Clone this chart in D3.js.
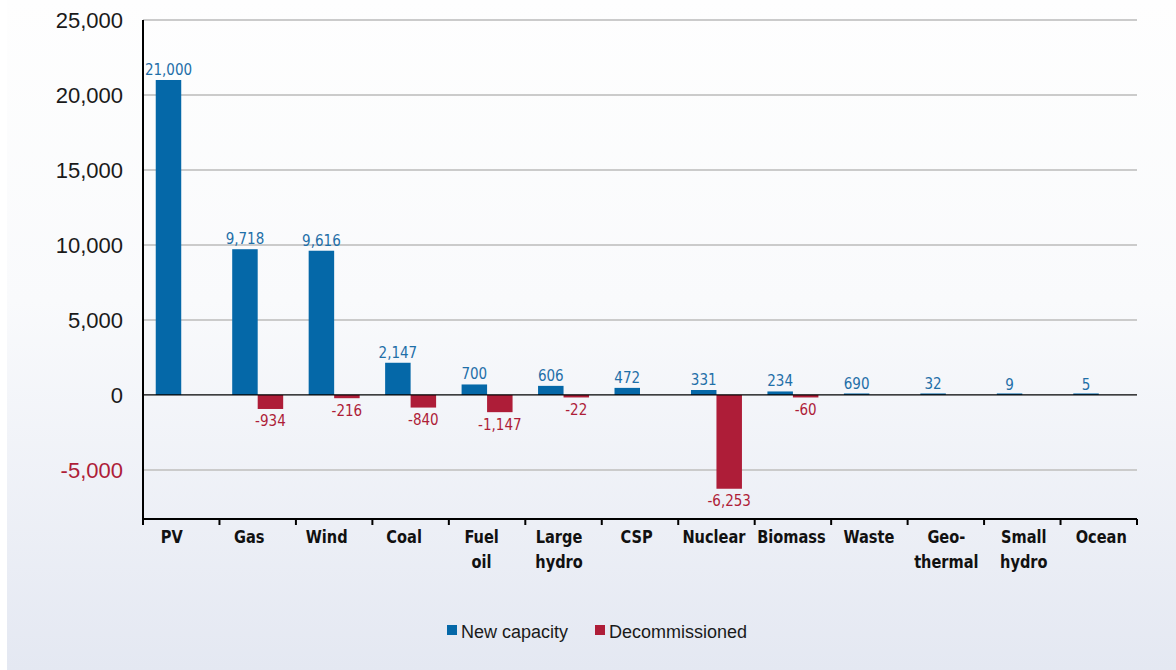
<!DOCTYPE html>
<html>
<head>
<meta charset="utf-8">
<script src="https://cdn.jsdelivr.net/npm/d3@7"></script>
<style>
  body { margin: 0; background: #fff; }
  svg { display: block; }
</style>
</head>
<body>
<svg width="1176" height="670"></svg>
<script>
// ~~~~~~ DATA ~~~~~~
var categories = [["PV"], ["Gas"], ["Wind"], ["Coal"], ["Fuel", "oil"], ["Large", "hydro"], ["CSP"],
                  ["Nuclear"], ["Biomass"], ["Waste"], ["Geo-", "thermal"], ["Small", "hydro"], ["Ocean"]];
var newCapacity = [21000, 9718, 9616, 2147, 700, 606, 472, 331, 234, 69, 32, 9, 5];
var newLabels = ["21,000", "9,718", "9,616", "2,147", "700", "606", "472", "331", "234", "690", "32", "9", "5"];
var decommissioned = [0, -934, -216, -840, -1147, -22, 0, -6253, -60, 0, 0, 0, 0];
var yTicks = [-5000, 0, 5000, 10000, 15000, 20000, 25000];
var seriesNames = ["New capacity", "Decommissioned"];

var BLUE = "#0568a8", RED = "#ae1d38";
var condensed = "'DejaVu Sans Condensed', 'Arial Narrow', sans-serif";
var fmt = function(v) { return d3.format(",")(v).replace("\u2212", "-"); };

var svg = d3.select("svg"),
    margin = {top: 20, left: 143, right: 39, bottom: 151},
    width = 1176 - margin.left - margin.right,
    height = 670 - margin.top - margin.bottom;

// background panel with soft gradient
var defs = svg.append("defs");
var grad = defs.append("linearGradient").attr("id", "bg").attr("x1", 0).attr("x2", 0).attr("y1", 0).attr("y2", 1);
grad.append("stop").attr("offset", "0%").attr("stop-color", "#fefefe");
grad.append("stop").attr("offset", "45%").attr("stop-color", "#f9fafc");
grad.append("stop").attr("offset", "100%").attr("stop-color", "#e4e8f2");
svg.append("rect").attr("x", 7).attr("y", 0).attr("width", 1169).attr("height", 670).attr("fill", "url(#bg)");

var g = svg.append("g").attr("transform", "translate(" + margin.left + "," + margin.top + ")");

// ~~~~~~ SCALES ~~~~~~
var x = d3.scaleBand().domain(d3.range(categories.length)).range([0, width]);
// category labels sit on a slightly wider spread than the bands
var xLab = d3.scaleBand().domain(d3.range(categories.length)).range([-10, width + 3]);
var y = d3.scaleLinear().domain([-8270, 25000]).range([height, 0]);
var barW = x.bandwidth() / 3;
var barOff = (x.bandwidth() - 2 * barW) / 2;

// gridlines
g.selectAll(".grid")
  .data(yTicks.filter(function(d) { return d !== 0; }))
  .enter().append("line")
  .attr("x1", 0).attr("x2", width)
  .attr("y1", function(d) { return y(d); }).attr("y2", function(d) { return y(d); })
  .attr("stroke", "#cbcbcb").attr("stroke-width", 2);

// y tick labels
g.selectAll(".ylab")
  .data(yTicks)
  .enter().append("text")
  .attr("x", -20)
  .attr("y", function(d) { return y(d); })
  .attr("dy", "0.36em")
  .attr("text-anchor", "end")
  .style("font", "22px 'Liberation Sans', Arial, sans-serif")
  .attr("fill", function(d) { return d < 0 ? RED : "#1a1a1a"; })
  .text(fmt);

// bars: new capacity
g.selectAll(".bar-new")
  .data(newCapacity)
  .enter().append("rect")
  .attr("x", function(d, i) { return x(i) + barOff; })
  .attr("y", function(d) { return Math.min(y(d), y(0) - 1.5); })
  .attr("width", barW)
  .attr("height", function(d) { return Math.max(y(0) - y(d), 1.5); })
  .attr("fill", BLUE);

// bars: decommissioned
var decData = decommissioned.map(function(v, i) { return {v: v, i: i}; })
  .filter(function(d) { return d.v < 0; });

g.selectAll(".bar-dec")
  .data(decData)
  .enter().append("rect")
  .attr("x", function(d) { return x(d.i) + barOff + barW; })
  .attr("y", y(0))
  .attr("width", barW)
  .attr("height", function(d) { return Math.max(y(d.v) - y(0), 2.5); })
  .attr("fill", RED);

// value labels
g.selectAll(".lab-new")
  .data(newCapacity)
  .enter().append("text")
  .attr("x", function(d, i) { return x(i) + barOff + barW / 2; })
  .attr("y", function(d) { return Math.min(y(d), y(0)) - 5; })
  .attr("text-anchor", "middle")
  .style("font", "15px " + condensed)
  .attr("fill", "#1f6fa8")
  .text(function(d, i) { return newLabels[i]; });

g.selectAll(".lab-dec")
  .data(decData)
  .enter().append("text")
  .attr("x", function(d) { return x(d.i) + barOff + barW * 1.5; })
  .attr("y", function(d) { return Math.max(y(d.v), y(0) + 2.5) + 17.5; })
  .attr("text-anchor", "middle")
  .style("font", "15px " + condensed)
  .attr("fill", RED)
  .text(function(d) { return fmt(d.v); });

// zero line
g.append("line")
  .attr("x1", 0).attr("x2", width)
  .attr("y1", y(0)).attr("y2", y(0))
  .attr("stroke", "#000").attr("stroke-width", 1.3);

// y axis line
g.append("line")
  .attr("x1", 0).attr("x2", 0)
  .attr("y1", 0).attr("y2", height)
  .attr("stroke", "#000").attr("stroke-width", 2);

// x axis with band boundary ticks
g.append("line")
  .attr("x1", 0).attr("x2", width)
  .attr("y1", height).attr("y2", height)
  .attr("stroke", "#000").attr("stroke-width", 2);

g.selectAll(".xtick")
  .data(d3.range(categories.length + 1))
  .enter().append("line")
  .attr("x1", function(d) { return d * x.step(); })
  .attr("x2", function(d) { return d * x.step(); })
  .attr("y1", height).attr("y2", height + 6)
  .attr("stroke", "#000").attr("stroke-width", 2);

// category labels (squeezed horizontally to mimic the condensed face)
categories.forEach(function(lines, i) {
  lines.forEach(function(s, j) {
    g.append("text")
      .attr("transform", "translate(" + (xLab(i) + xLab.bandwidth() / 2) + "," + (height + 24 + j * 25) + ") scale(0.9,1)")
      .attr("text-anchor", "middle")
      .style("font", "bold 18px " + condensed)
      .attr("fill", "#111")
      .text(s);
  });
});

// ~~~~~~ LEGEND ~~~~~~
var legend = svg.append("g").attr("transform", "translate(447,625)");
var legX = [0, 148];
seriesNames.forEach(function(name, i) {
  legend.append("rect")
    .attr("x", legX[i]).attr("y", 0)
    .attr("width", 10).attr("height", 10)
    .attr("fill", i === 0 ? BLUE : RED);
  legend.append("text")
    .attr("x", legX[i] + 14).attr("y", 13)
    .style("font", "18px 'Liberation Sans', Arial, sans-serif")
    .attr("fill", "#1a1a1a")
    .text(name);
});
</script>
</body>
</html>
